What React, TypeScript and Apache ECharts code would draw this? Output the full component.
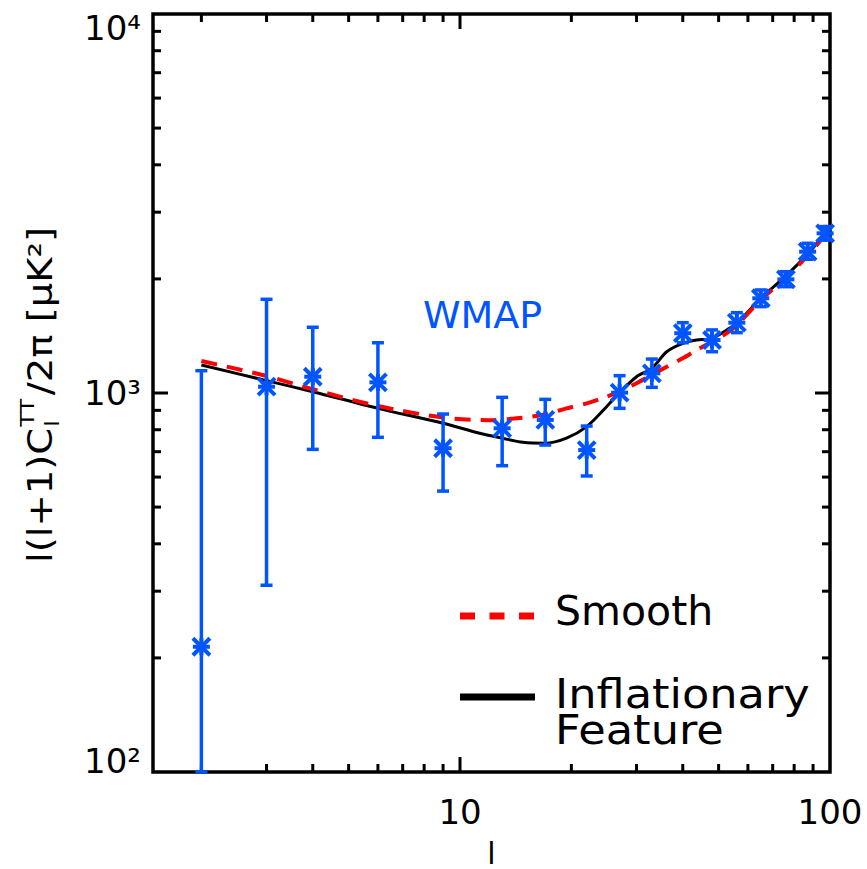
import React, { useEffect, useRef } from 'react';
import * as echarts from 'echarts';

// ---------- data ----------
const ELL = [2, 3, 4, 6, 9, 13, 17, 22, 27, 33, 40, 48, 56, 65, 76, 87, 97];
const CL = [214, 1039, 1104, 1067, 715, 807, 849, 707, 1002, 1127, 1438, 1380, 1533, 1778, 1995, 2360, 2638];
const ERR_LO = [100, 311, 710, 764, 551, 643, 729, 604, 911, 1035, 1357, 1285, 1443, 1690, 1908, 2253, 2533];
const ERR_HI = [1145, 1767, 1491, 1357, 880, 974, 962, 818, 1111, 1229, 1533, 1467, 1629, 1870, 2089, 2483, 2748];

const FEAT_L = [2, 3, 4, 6, 9, 11.3, 13, 14.8, 17, 19.4, 22, 24.9, 27, 30, 33, 36.2, 40, 43.6, 48, 52.6, 56, 65, 75.6, 87.4, 97, 100];
const FEAT_V = [1186, 1078, 1008, 911, 832, 783, 760, 741, 737, 760, 815, 920, 1002, 1104, 1162, 1285, 1352, 1380, 1394, 1467, 1527, 1778, 2027, 2337, 2638, 2720];

const SMOOTH_L = [2, 3, 4, 6, 9, 12, 14, 17, 19.4, 22, 24.9, 27, 30, 33, 36.2, 40, 43.6, 48, 52.6, 56, 65, 75.6, 87.4, 97, 100];
const SMOOTH_V = [1215, 1109, 1023, 924, 862, 848, 856, 878, 911, 939, 978, 1008, 1061, 1116, 1173, 1235, 1298, 1366, 1438, 1512, 1760, 2007, 2313, 2612, 2700];

const X_MINOR_TICKS = [2, 3, 4, 5, 6, 7, 8, 9, 20, 30, 40, 50, 60, 70, 80, 90];
const X_MAJOR_TICKS = [10];
const Y_MINOR_TICKS = [200, 300, 400, 500, 600, 700, 800, 900, 2000, 3000, 4000, 5000, 6000, 7000, 8000, 9000];
const Y_MAJOR_TICKS = [1000];

const SUP: Record<number, string> = { 2: '²', 3: '³', 4: '⁴' };

const FONT = '"DejaVu Sans", sans-serif';
const BLUE = '#0055ff';
const RED = '#ff0000';

export default function App() {
  const ref = useRef<HTMLDivElement>(null);

  useEffect(() => {
    const chart = echarts.init(ref.current!, null, { renderer: 'svg' });

    const ctx = document.createElement('canvas').getContext('2d')!;
    const meas = (t: string, size: number) => {
      ctx.font = `${size}px "DejaVu Sans"`;
      return ctx.measureText(t).width;
    };

    // y-axis title pieces
    const F = 33;
    const FS = 20;
    const s1 = 'l(l+1)C';
    const s3 = '/2π [μK²]';
    const w1 = meas(s1, F);
    const wSS = Math.max(meas('TT', FS), meas('l', FS));
    const w3 = meas(s3, F);
    const total = w1 + 1 + wSS + 3 + w3;
    const sc = 336 / total;

    const tickData: number[][] = [
      ...X_MINOR_TICKS.map((v) => [v, 1000, 0]),
      ...X_MAJOR_TICKS.map((v) => [v, 1000, 1]),
      ...Y_MINOR_TICKS.map((v) => [10, v, 2]),
      ...Y_MAJOR_TICKS.map((v) => [10, v, 3]),
    ];

    const errData = ELL.map((l, i) => [l, CL[i], ERR_LO[i], ERR_HI[i]]);

    const option: any = {
      animation: false,
      backgroundColor: '#fff',
      grid: {
        left: 153,
        top: 14,
        width: 677,
        height: 758,
        containLabel: false,
        outerBoundsMode: 'none',
        show: true,
        borderColor: '#000',
        borderWidth: 3.5,
        backgroundColor: 'transparent',
      },
      xAxis: {
        type: 'log',
        logBase: 10,
        min: 1.48,
        max: 100,
        name: 'l',
        nameLocation: 'middle',
        nameGap: 81,
        nameTextStyle: { fontFamily: FONT, fontSize: 30, color: '#000', verticalAlign: 'middle' },
        axisLine: { show: false },
        axisTick: { show: false },
        splitLine: { show: false },
        minorTick: { show: false },
        axisLabel: {
          fontFamily: FONT,
          fontSize: 34,
          color: '#000',
          margin: 23,
          showMinLabel: false,
          showMaxLabel: true,
          formatter: (v: number) => {
            const e = Math.log10(v);
            return Math.abs(e - Math.round(e)) < 1e-6 ? String(Math.round(v)) : '';
          },
        },
      },
      yAxis: {
        type: 'log',
        logBase: 10,
        min: 100,
        max: 10000,
        axisLine: { show: false },
        axisTick: { show: false },
        splitLine: { show: false },
        minorTick: { show: false },
        axisLabel: {
          color: '#000',
          margin: 12,
          showMinLabel: true,
          showMaxLabel: true,
          formatter: (v: number) => {
            const e = Math.round(Math.log10(v));
            const t = '10' + (SUP[e] || '');
            if (e === 2) return `{lo|${t}}`;
            if (e === 4) return `{hi|${t}}`;
            return `{mid|${t}}`;
          },
          rich: {
            lo: { fontFamily: FONT, fontSize: 34, color: '#000', padding: [0, 0, 22, 0] },
            mid: { fontFamily: FONT, fontSize: 34, color: '#000' },
            hi: { fontFamily: FONT, fontSize: 34, color: '#000', padding: [27, 0, 0, 0] },
          },
        },
      },
      series: [
        {
          name: 'Inflationary Feature',
          type: 'line',
          data: FEAT_L.map((l, i) => [l, FEAT_V[i]]),
          symbol: 'none',
          showSymbol: false,
          smooth: 0.3,
          lineStyle: { color: '#000', width: 3 },
          z: 2,
        },
        {
          name: 'Smooth',
          type: 'line',
          data: SMOOTH_L.map((l, i) => [l, SMOOTH_V[i]]),
          symbol: 'none',
          showSymbol: false,
          smooth: 0.3,
          lineStyle: { color: RED, width: 4, type: [16, 10] },
          z: 3,
        },
        {
          name: 'ticks',
          type: 'custom',
          silent: true,
          dimensions: ['x', 'y', 'k'],
          encode: { x: 0, y: 1 },
          data: tickData,
          z: 5,
          renderItem: (params: any, api: any) => {
            const cs = params.coordSys;
            const k = api.value(2);
            const p = api.coord([api.value(0), api.value(1)]);
            const style = { stroke: '#000', lineWidth: 3 };
            if (k < 2) {
              const len = k === 1 ? 15 : 8;
              const b = cs.y + cs.height;
              const t = cs.y;
              return {
                type: 'group',
                children: [
                  { type: 'line', shape: { x1: p[0], y1: b, x2: p[0], y2: b - len }, style },
                  { type: 'line', shape: { x1: p[0], y1: t, x2: p[0], y2: t + len }, style },
                ],
              };
            }
            const len = k === 3 ? 15 : 8;
            const l = cs.x;
            const r = cs.x + cs.width;
            return {
              type: 'group',
              children: [
                { type: 'line', shape: { x1: l, y1: p[1], x2: l + len, y2: p[1] }, style },
                { type: 'line', shape: { x1: r, y1: p[1], x2: r - len, y2: p[1] }, style },
              ],
            };
          },
        },
        {
          name: 'WMAP',
          type: 'custom',
          dimensions: ['l', 'cl', 'lo', 'hi'],
          encode: { x: 0, y: 1 },
          data: errData,
          z: 6,
          renderItem: (params: any, api: any) => {
            const l = api.value(0);
            const pt = api.coord([l, api.value(1)]);
            const lo = api.coord([l, api.value(2)]);
            const hi = api.coord([l, api.value(3)]);
            const style = { stroke: BLUE, lineWidth: 3.5 };
            const mstyle = { stroke: BLUE, lineWidth: 4 };
            const c = 6;
            const a = 8.5;
            const x = pt[0];
            const y = pt[1];
            return {
              type: 'group',
              children: [
                { type: 'line', shape: { x1: lo[0], y1: lo[1], x2: hi[0], y2: hi[1] }, style },
                { type: 'line', shape: { x1: lo[0] - c, y1: lo[1], x2: lo[0] + c, y2: lo[1] }, style },
                { type: 'line', shape: { x1: hi[0] - c, y1: hi[1], x2: hi[0] + c, y2: hi[1] }, style },
                { type: 'line', shape: { x1: x - a, y1: y - a, x2: x + a, y2: y + a }, style: mstyle },
                { type: 'line', shape: { x1: x - a, y1: y + a, x2: x + a, y2: y - a }, style: mstyle },
                { type: 'line', shape: { x1: x - a, y1: y, x2: x + a, y2: y }, style: mstyle },
                { type: 'line', shape: { x1: x, y1: y - a, x2: x, y2: y + a }, style: mstyle },
              ],
            };
          },
        },
      ],
      graphic: [
        {
          type: 'text',
          x: 423,
          y: 315,
          style: { text: 'WMAP', fontFamily: FONT, fontSize: 38, fill: BLUE, align: 'left', verticalAlign: 'middle' },
        },
        {
          type: 'line',
          shape: { x1: 460, y1: 616, x2: 534, y2: 616 },
          style: { stroke: RED, lineWidth: 7, lineDash: [15, 14.5] },
        },
        {
          type: 'text',
          x: 555,
          y: 611,
          style: { text: 'Smooth', fontFamily: FONT, fontSize: 41, fill: '#000', align: 'left', verticalAlign: 'middle' },
        },
        {
          type: 'line',
          shape: { x1: 460, y1: 697, x2: 535, y2: 697 },
          style: { stroke: '#000', lineWidth: 7 },
        },
        {
          type: 'text',
          x: 555,
          y: 712,
          scaleX: 1.09,
          style: {
            text: 'Inflationary\nFeature',
            fontFamily: FONT,
            fontSize: 41,
            lineHeight: 36,
            fill: '#000',
            align: 'left',
            verticalAlign: 'middle',
          },
        },
        {
          type: 'group',
          x: 40,
          y: 563,
          rotation: Math.PI / 2,
          scaleX: sc,
          children: [
            {
              type: 'text',
              x: 0,
              y: 0,
              style: { text: s1, fontFamily: FONT, fontSize: F, fill: '#000', align: 'left', verticalAlign: 'middle' },
            },
            {
              type: 'text',
              x: w1 + 1,
              y: -13,
              style: { text: 'TT', fontFamily: FONT, fontSize: FS, fill: '#000', align: 'left', verticalAlign: 'middle' },
            },
            {
              type: 'text',
              x: w1 + 1,
              y: 12,
              style: { text: 'l', fontFamily: FONT, fontSize: FS, fill: '#000', align: 'left', verticalAlign: 'middle' },
            },
            {
              type: 'text',
              x: w1 + 1 + wSS + 3,
              y: 0,
              style: { text: s3, fontFamily: FONT, fontSize: F, fill: '#000', align: 'left', verticalAlign: 'middle' },
            },
          ],
        },
      ],
    };

    chart.setOption(option);
    return () => chart.dispose();
  }, []);

  return <div ref={ref} style={{ position: 'absolute', left: 0, top: 0, width: 867, height: 869 }} />;
}
